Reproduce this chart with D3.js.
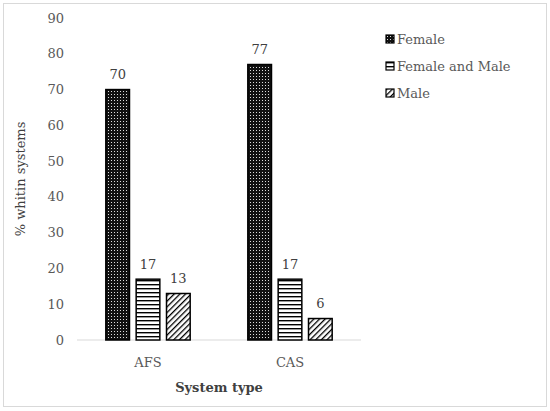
<!DOCTYPE html>
<html><head><meta charset="utf-8">
<script src="https://cdn.jsdelivr.net/npm/d3@7"></script>
<style>body{margin:0;background:#fff}svg{display:block}</style>
</head><body>
<svg id="chart" width="550" height="411"></svg>
<script>
const categories = ["AFS", "CAS"];
const seriesNames = ["Female", "Female and Male", "Male"];
const female = [70, 77];
const femaleAndMale = [17, 17];
const male = [13, 6];
const yTicks = [0, 10, 20, 30, 40, 50, 60, 70, 80, 90];

const seriesValues = [female, femaleAndMale, male];
const font = "'DejaVu Serif', 'Liberation Serif', serif";
const svg = d3.select("#chart");

// frame
svg.append("rect").attr("x", 3.5).attr("y", 3.5).attr("width", 543).attr("height", 403)
  .attr("fill", "#fff").attr("stroke", "#d9d9d9").attr("stroke-width", 1);

// patterns
const defs = svg.append("defs");
const p0 = defs.append("pattern").attr("id", "pat0").attr("patternUnits", "userSpaceOnUse")
  .attr("width", 3).attr("height", 3);
p0.append("rect").attr("width", 3).attr("height", 3).attr("fill", "#111");
p0.append("rect").attr("x", 1).attr("y", 1).attr("width", 1).attr("height", 1).attr("fill", "#ddd");
const p1 = defs.append("pattern").attr("id", "pat1").attr("patternUnits", "userSpaceOnUse")
  .attr("width", 4).attr("height", 4);
p1.append("rect").attr("width", 4).attr("height", 4).attr("fill", "#fff");
p1.append("rect").attr("y", 0).attr("width", 4).attr("height", 1.4).attr("fill", "#000");
const p2 = defs.append("pattern").attr("id", "pat2").attr("patternUnits", "userSpaceOnUse")
  .attr("width", 4).attr("height", 4).attr("patternTransform", "rotate(45)");
p2.append("rect").attr("width", 4).attr("height", 4).attr("fill", "#fff");
p2.append("rect").attr("x", 0).attr("width", 1.3).attr("height", 4).attr("fill", "#000");

const x0 = d3.scaleBand().domain(categories).range([77, 361]).paddingInner(0.0).paddingOuter(0);
const x1 = d3.scaleBand().domain(seriesNames).range([0, x0.bandwidth()]).paddingInner(0.22).paddingOuter(0.95);
const y = d3.scaleLinear().domain([0, 90]).range([340, 18]);

// y axis labels
svg.append("g").selectAll("text").data(yTicks).join("text")
  .attr("x", 64).attr("y", d => y(d)).attr("dy", "0.35em").attr("text-anchor", "end")
  .attr("font-family", font).attr("font-size", 13).attr("fill", "#595959").text(d => d);

// baseline
svg.append("line").attr("x1", x0.range()[0]).attr("x2", x0.range()[1])
  .attr("y1", y(0)).attr("y2", y(0)).attr("stroke", "#d9d9d9").attr("stroke-width", 1);

// bars
const groups = svg.append("g").selectAll("g").data(categories).join("g")
  .attr("transform", c => `translate(${x0(c)},0)`);
groups.each(function(c, ci) {
  const g = d3.select(this);
  seriesNames.forEach((s, si) => {
    const v = seriesValues[si][ci];
    g.append("rect").attr("x", x1(s)).attr("y", y(v)).attr("width", x1.bandwidth())
      .attr("height", y(0) - y(v)).attr("fill", `url(#pat${si})`)
      .attr("stroke", "#000").attr("stroke-width", 1.5);
    g.append("text").attr("x", x1(s) + x1.bandwidth() / 2).attr("y", y(v) - 15)
      .attr("dy", "0.35em")
      .attr("text-anchor", "middle").attr("font-family", font).attr("font-size", 13)
      .attr("fill", "#404040").text(v);
  });
});

// x axis labels
svg.append("g").selectAll("text").data(categories).join("text")
  .attr("x", c => x0(c) + x0.bandwidth() / 2).attr("y", 362).attr("dy", "0.35em")
  .attr("text-anchor", "middle").attr("font-family", font).attr("font-size", 13)
  .attr("fill", "#595959").text(c => c);

svg.append("text").attr("x", x0(categories[0]) + x0.bandwidth()).attr("y", 387).attr("dy", "0.35em")
  .attr("text-anchor", "middle").attr("font-family", font).attr("font-size", 13)
  .attr("font-weight", "bold").attr("fill", "#404040").text("System type");

svg.append("text").attr("transform", `translate(20,${y(45)}) rotate(-90)`)
  .attr("dy", "0.35em").attr("text-anchor", "middle").attr("font-family", font)
  .attr("font-size", 13).attr("fill", "#404040").text("% whitin systems");

// legend
const lg = svg.append("g").selectAll("g").data(seriesNames).join("g")
  .attr("transform", (d, i) => `translate(386,${35 + i * 27})`);
lg.append("rect").attr("width", 8).attr("height", 8).attr("fill", (d, i) => `url(#pat${i})`)
  .attr("stroke", "#000").attr("stroke-width", 1.2);
lg.append("text").attr("x", 11).attr("y", 4).attr("dy", "0.35em").attr("font-family", font)
  .attr("font-size", 13).attr("fill", "#595959").text(d => d);
</script>
</body></html>
